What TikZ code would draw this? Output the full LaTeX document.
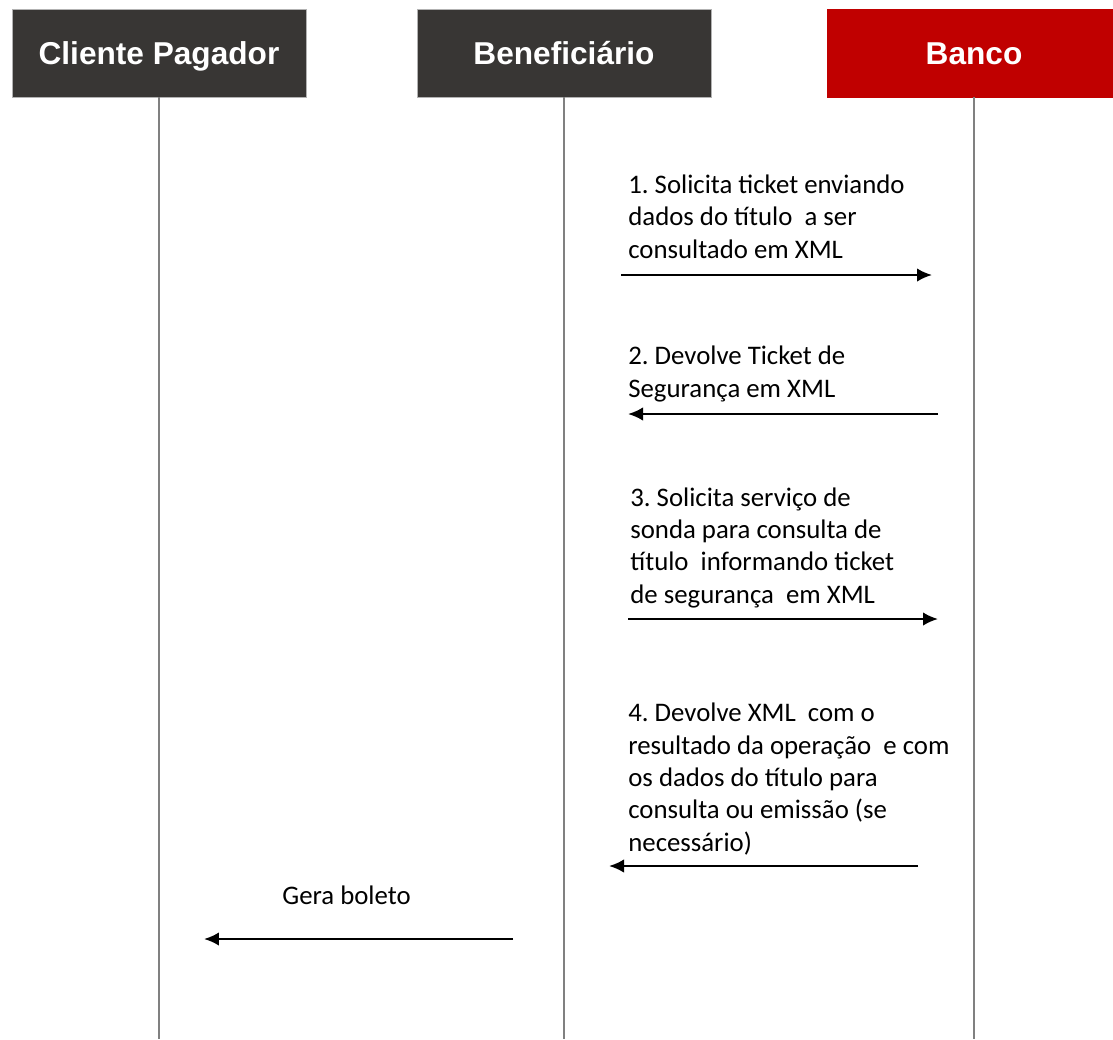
\documentclass[tikz,border=0pt]{standalone}
\usepackage{fontspec}
\setmainfont{Carlito}
\newfontfamily\headfont{Liberation Sans}
\usetikzlibrary{positioning, arrows.meta}

\definecolor{headgray}{RGB}{56,54,52}
\definecolor{headred}{RGB}{192,0,0}
\frenchspacing

\begin{document}
\begin{tikzpicture}[x=0.02cm, y=-0.02cm,
		actor/.style={fill=headgray, draw=gray!60, line width=0.5pt, text=white, minimum width=5.88cm, minimum height=1.76cm, inner sep=0, text height=17.6pt, text depth=4pt, font=\headfont\fontsize{18}{22}\selectfont\bfseries},
		life/.style={draw=gray, line width=0.7pt},
		msg/.style={draw=black, line width=1.3pt, -{Latex[length=3mm, width=2.7mm]}},
		note/.style={anchor=base west, inner sep=0, align=left, font=\fontsize{15.25}{18.4}\selectfont}]
		\useasboundingbox (0,0) rectangle (1113,1039);

		% participants
		\node [actor] (cliente) at (159,53) {Cliente Pagador};
		\node [actor] (benef) at (564,53) {Beneficiário};
		\node [actor, fill=headred, draw=headred] (banco) at (974,53) {Banco};

		\coordinate (cliente end) at (159,1039);
		\coordinate (benef end) at (564,1039);
		\coordinate (banco end) at (974,1039);

		\path
		(cliente) edge [life] (cliente end)
		(benef) edge [life] (benef end)
		(banco) edge [life] (banco end);

		% messages (notes sit on the baseline of their last line)
		\coordinate (m1a) at (621,275);
		\coordinate (m1b) at (932,275);
		\coordinate (m2a) at (938,414);
		\coordinate (m2b) at (628,414);
		\coordinate (m3a) at (628,619);
		\coordinate (m3b) at (938,619);
		\coordinate (m4a) at (918,866);
		\coordinate (m4b) at (609,866);
		\coordinate (m5a) at (513,939);
		\coordinate (m5b) at (204,939);

		\node [note] (t1) at (628,258) {1. Solicita ticket enviando\\dados do título\ \ a ser\\consultado em XML};
		\node [note] (t2) at (628,397) {2. Devolve Ticket de\\Segurança em XML};
		\node [note] (t3) at (630,603) {3. Solicita serviço de\\sonda para consulta de\\título\ \ informando ticket\\de segurança\ \ em XML};
		\node [note] (t4) at (628,851) {4. Devolve XML\ \ com o\\resultado da operação\ \ e com\\os dados do título para\\consulta ou emissão (se\\necessário)};
		\node [note] (t5) at (282,904) {Gera boleto};

		\path
		(m1a) edge [msg] (m1b)
		(m2a) edge [msg] (m2b)
		(m3a) edge [msg] (m3b)
		(m4a) edge [msg] (m4b)
		(m5a) edge [msg] (m5b);

	\end{tikzpicture}
\end{document}
